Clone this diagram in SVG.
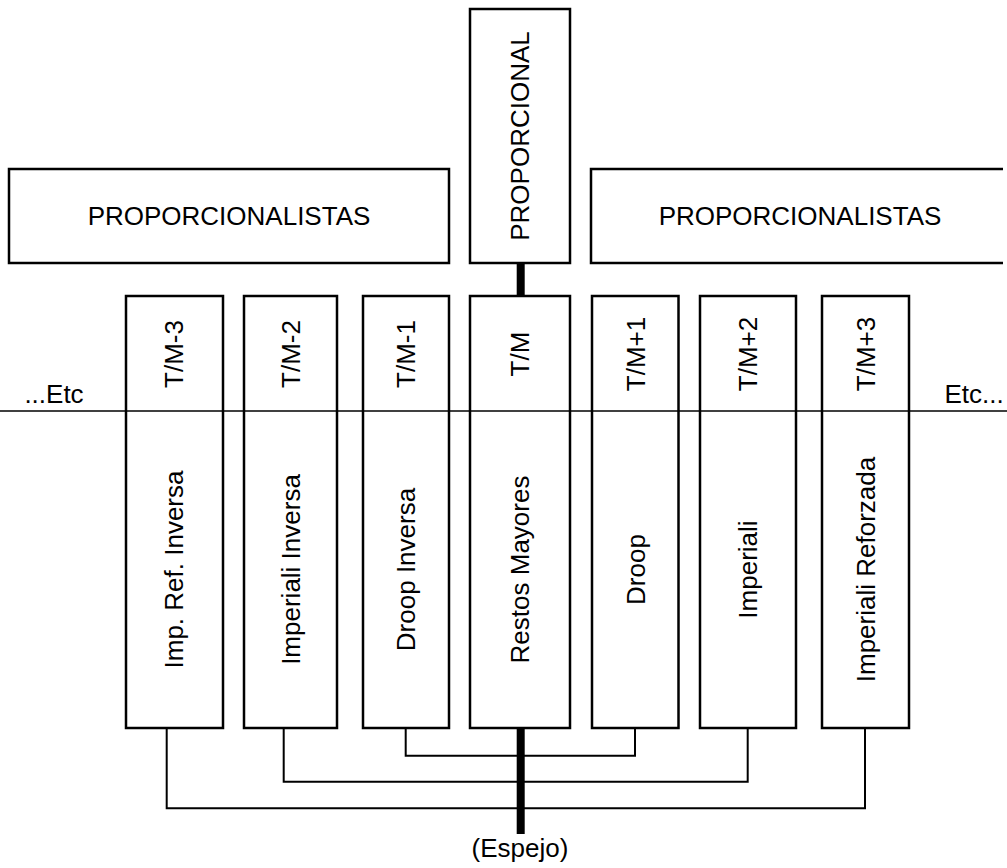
<svg xmlns="http://www.w3.org/2000/svg" width="1007" height="868" viewBox="0 0 1007 868">
  <style>
    .box { fill: #ffffff; stroke: #000000; stroke-width: 2.5; }
    .wire { fill: none; stroke: #000000; stroke-width: 2; }
    .axis { fill: none; stroke: #000000; stroke-width: 1.5; }
    .spine { fill: none; stroke: #000000; stroke-width: 8; }
    .lbl { font-family: "Liberation Sans", Arial, sans-serif; font-size: 26px; fill: #000000; text-anchor: middle; }
  </style>
  <rect width="1007" height="868" fill="#ffffff"/>

  <!-- connectors -->
  <g id="connectors">
    <line class="spine" x1="520.7" y1="263" x2="520.7" y2="296"/>
    <line class="spine" x1="520.7" y1="728" x2="520.7" y2="834"/>
    <polyline class="wire" points="405.7,728 405.7,755.7 635,755.7 635,728"/>
    <polyline class="wire" points="283.7,728 283.7,781.7 747.7,781.7 747.7,728"/>
    <polyline class="wire" points="166.7,728 166.7,808.3 865,808.3 865,728"/>
  </g>

  <g id="group-left">
    <rect class="box" x="9" y="169" width="440" height="94"/>
    <text class="lbl" x="229" y="225">PROPORCIONALISTAS</text>
  </g>

  <g id="group-right">
    <path class="box" d="M1003,169 H591 V263 H1003"/>
    <text class="lbl" x="800" y="225">PROPORCIONALISTAS</text>
  </g>

  <g id="proporcional">
    <rect class="box" x="470" y="9" width="100" height="254"/>
    <text class="lbl" transform="translate(529.3,136) rotate(-90)">PROPORCIONAL</text>
  </g>

  <g id="tm-3">
    <rect class="box" x="126" y="296" width="97" height="432"/>
    <text class="lbl" transform="translate(182.5,354) rotate(-90)">T/M-3</text>
    <text class="lbl" transform="translate(182.5,569.5) rotate(-90)">Imp. Ref. Inversa</text>
  </g>

  <g id="tm-2">
    <rect class="box" x="244" y="296" width="93" height="432"/>
    <text class="lbl" transform="translate(299.8,354) rotate(-90)">T/M-2</text>
    <text class="lbl" transform="translate(299.8,569.5) rotate(-90)">Imperiali Inversa</text>
  </g>

  <g id="tm-1">
    <rect class="box" x="363" y="296" width="86" height="432"/>
    <text class="lbl" transform="translate(415.3,354) rotate(-90)">T/M-1</text>
    <text class="lbl" transform="translate(415.3,569.5) rotate(-90)">Droop Inversa</text>
  </g>

  <g id="tm">
    <rect class="box" x="470" y="296" width="100" height="432"/>
    <text class="lbl" transform="translate(529.3,354) rotate(-90)">T/M</text>
    <text class="lbl" transform="translate(529.3,569.5) rotate(-90)">Restos Mayores</text>
  </g>

  <g id="tm+1">
    <rect class="box" x="592" y="296" width="86.5" height="432"/>
    <text class="lbl" transform="translate(644.5,354) rotate(-90)">T/M+1</text>
    <text class="lbl" transform="translate(644.5,569.5) rotate(-90)">Droop</text>
  </g>

  <g id="tm+2">
    <rect class="box" x="700" y="296" width="96" height="432"/>
    <text class="lbl" transform="translate(757.3,354) rotate(-90)">T/M+2</text>
    <text class="lbl" transform="translate(757.3,569.5) rotate(-90)">Imperiali</text>
  </g>

  <g id="tm+3">
    <rect class="box" x="822" y="296" width="87" height="432"/>
    <text class="lbl" transform="translate(874.8,354) rotate(-90)">T/M+3</text>
    <text class="lbl" transform="translate(874.8,569.5) rotate(-90)">Imperiali Reforzada</text>
  </g>

  <!-- horizontal divider drawn across the columns, with overflow markers -->
  <g id="divider">
    <line class="axis" x1="0" y1="411" x2="1007" y2="411"/>
    <text class="lbl" x="54" y="403">...Etc</text>
    <text class="lbl" x="974" y="403">Etc...</text>
  </g>

  <g id="espejo">
    <text class="lbl" x="520" y="857">(Espejo)</text>
  </g>
</svg>
